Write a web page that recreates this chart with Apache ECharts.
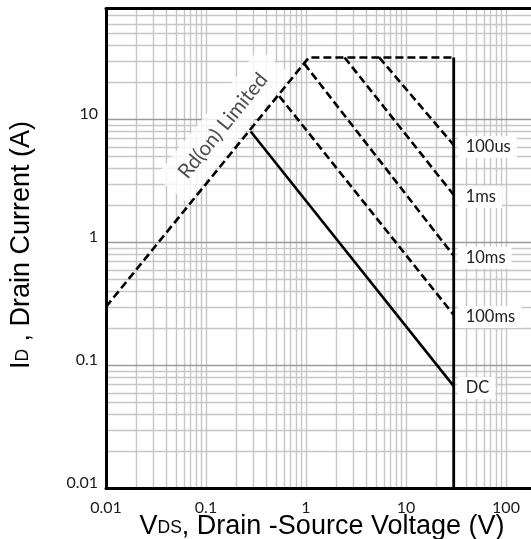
<!DOCTYPE html>
<html>
<head>
<meta charset="utf-8">
<script src="https://cdn.jsdelivr.net/npm/echarts@6/dist/echarts.min.js"></script>
<style>
  html, body { margin: 0; padding: 0; background: #fff; }
  #chart { width: 531px; height: 539px; }
</style>
</head>
<body>
<div id="chart"></div>
<script>
// Safe operating area (log-log): drain current vs drain-source voltage

// Axis decades and the 1..9 steps used for the log grid
const decades = [0.01, 0.1, 1, 10, 100];
const steps = [1, 2, 3, 4, 5, 6, 7, 8, 9];
const xTickLabels = ['0.01', '0.1', '1', '10', '100'];
const yTickLabels = ['0.01', '0.1', '1', '10'];

// Rd(on) limit rising into the current limit
const rdV = [0.01, 1.07, 30];
const rdI = [0.3, 32, 32];

// Maximum VDS
const vdsMaxV = [30, 30];
const vdsMaxI = [32, 0.01];

// Pulse-width limits
const pulseNames = ['100us', '1ms', '10ms', '100ms', 'DC'];
const pulseStartV = [5.4, 2.43, 0.96, 0.54, 0.28];
const pulseStartI = [32, 32, 28.5, 15.5, 8.0];
const pulseEndV = [30, 30, 30, 30, 30];
const pulseEndI = [6.2, 2.44, 0.78, 0.258, 0.068];

// Where the Rd(on) caption sits (data space)
const rdLabelAt = [0.148, 8.9];

const X_MIN = 0.01, X_MAX = 1000, Y_MIN = 0.01, Y_MAX = 80;
const LABEL_FONT = 'Lato, "Open Sans", sans-serif';
const TITLE_FONT = '"Liberation Sans", Arial, sans-serif';

function isDecade(v) {
  const e = Math.log10(v);
  return Math.abs(e - Math.round(e)) < 1e-6;
}
function decadeLabel(v, labels) {
  if (!isDecade(v)) return '';
  const e = Math.round(Math.log10(v));
  const idx = decades.findIndex(d => Math.round(Math.log10(d)) === e);
  return idx >= 0 && idx < labels.length ? labels[idx] : '';
}

// Log grid lines
const minorColor = '#c6c6c6';
const majorYColor = '#9a9a9a';
const xGrid = [];
decades.forEach(d => steps.forEach(s => {
  const v = d * s;
  if (v > X_MIN * 1.0001) xGrid.push({ xAxis: v, lineStyle: { color: minorColor, width: 1.4 } });
}));
const yGrid = [];
decades.forEach(d => steps.forEach(s => {
  const v = d * s;
  if (v > Y_MIN * 1.0001 && v < Y_MAX * 0.999) {
    yGrid.push({ yAxis: v, lineStyle: { color: s === 1 ? majorYColor : minorColor, width: 1.4 } });
  }
}));

const series = [];

series.push({
  type: 'line',
  data: [],
  z: 1,
  silent: true,
  markLine: {
    z: 1,
    silent: true,
    symbol: ['none', 'none'],
    label: { show: false },
    lineStyle: { type: 'solid' },
    data: xGrid.concat(yGrid)
  }
});

series.push({
  type: 'scatter',
  z: 3,
  silent: true,
  symbolSize: 0,
  data: [rdLabelAt],
  label: {
    show: true,
    position: 'inside',
    rotate: 51,
    formatter: 'Rd(on) Limited',
    fontFamily: LABEL_FONT,
    fontSize: 20.5,
    color: '#1e1e1e',
    backgroundColor: '#fff',
    padding: [10, 18]
  }
});

series.push({
  type: 'line',
  z: 4,
  symbol: 'none',
  data: rdV.map((v, i) => [v, rdI[i]]),
  lineStyle: { color: '#000', width: 2.6, type: [8, 4] }
});

series.push({
  type: 'line',
  z: 4,
  symbol: 'none',
  data: vdsMaxV.map((v, i) => [v, vdsMaxI[i]]),
  lineStyle: { color: '#000', width: 2.8, type: 'solid' }
});

pulseNames.forEach((name, i) => {
  series.push({
    type: 'line',
    name: name,
    z: 4,
    symbol: 'none',
    data: [[pulseStartV[i], pulseStartI[i]], [pulseEndV[i], pulseEndI[i]]],
    lineStyle: { color: '#000', width: 2.6, type: name === 'DC' ? 'solid' : [8, 4] },
    endLabel: {
      show: true,
      formatter: name,
      distance: 4,
      offset: [0, 2],
      fontFamily: LABEL_FONT,
      fontSize: 16.5,
      lineHeight: 16,
      color: '#1e1e1e',
      backgroundColor: '#fff',
      padding: [3, 6, 3, 8]
    }
  });
});

const titleRich = {
  b: { fontSize: 27, fontFamily: TITLE_FONT, fill: '#000', verticalAlign: 'bottom', lineHeight: 30 },
  s: { fontSize: 17.5, fontFamily: TITLE_FONT, fill: '#000', verticalAlign: 'bottom', lineHeight: 27, padding: [0, 0, 3, 0] }
};

const option = {
  animation: false,
  backgroundColor: '#fff',
  grid: { left: 106, top: 8.5, width: 500, height: 480, containLabel: false, outerBoundsMode: 'none' },
  xAxis: [
    {
      type: 'log', logBase: 10, min: X_MIN, max: X_MAX, splitNumber: 5, z: 6,
      axisLine: { show: true, lineStyle: { color: '#000', width: 3 } },
      axisTick: { show: false },
      splitLine: { show: false },
      minorSplitLine: { show: false },
      axisLabel: {
        margin: 11, fontFamily: LABEL_FONT, fontSize: 16, color: '#1a1a1a',
        formatter: v => decadeLabel(v, xTickLabels)
      }
    },
    {
      type: 'log', logBase: 10, min: X_MIN, max: X_MAX, position: 'top', z: 6,
      axisLine: { show: true, lineStyle: { color: '#000', width: 3 } },
      axisTick: { show: false }, axisLabel: { show: false }, splitLine: { show: false }
    }
  ],
  yAxis: {
    type: 'log', logBase: 10, min: Y_MIN, max: Y_MAX, splitNumber: 4, z: 6,
    axisLine: { show: true, lineStyle: { color: '#000', width: 3 } },
    axisTick: { show: false },
    splitLine: { show: false },
    axisLabel: {
      margin: 8, fontFamily: LABEL_FONT, fontSize: 16, color: '#1a1a1a',
      verticalAlign: 'bottom', lineHeight: 11,
      formatter: v => decadeLabel(v, yTickLabels)
    }
  },
  graphic: [
    {
      type: 'text', x: 322, y: 525, z: 10,
      style: {
        text: '{b|V}{s|DS}{b|, Drain -Source Voltage (V)}',
        align: 'center', verticalAlign: 'middle', rich: titleRich
      }
    },
    {
      type: 'text', x: 20, y: 245, rotation: Math.PI / 2, z: 10,
      style: {
        text: '{b|I}{s|D}{b| , Drain Current (A)}',
        align: 'center', verticalAlign: 'middle', rich: titleRich
      }
    }
  ],
  series: series
};

const chart = echarts.init(document.getElementById('chart'), null, { renderer: 'canvas' });
chart.setOption(option);
</script>
</body>
</html>
